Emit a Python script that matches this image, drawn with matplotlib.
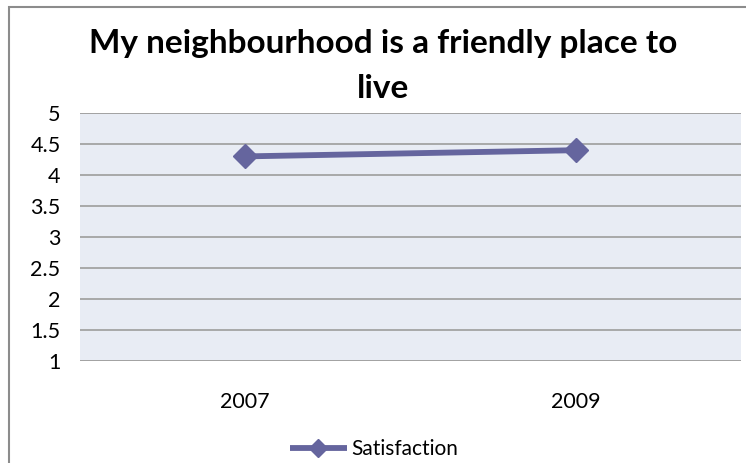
import matplotlib
matplotlib.use("Agg")
import matplotlib.pyplot as plt
from matplotlib.patches import Rectangle

title = "My neighbourhood is a friendly place to\nlive"
categories = ["2007", "2009"]
satisfaction = [4.3, 4.4]
series_name = "Satisfaction"
y_ticks = [1, 1.5, 2, 2.5, 3, 3.5, 4, 4.5, 5]
y_labels = ["1", "1.5", "2", "2.5", "3", "3.5", "4", "4.5", "5"]

plt.rcParams['font.family'] = ['Lato', 'DejaVu Sans']

W, H = 746, 463
fig = plt.figure(figsize=(W / 100, H / 100), dpi=100)
fig.patch.set_facecolor("white")

# chart border
fig.patches.append(Rectangle((9 / W, -0.05), 1.1, 1 - 6.5 / H + 0.05,
                             transform=fig.transFigure, fill=False,
                             edgecolor="#8c8c8c", linewidth=1.5))

ax = fig.add_axes([80 / W, 1 - 361 / H, (741 - 80) / W, (361 - 113) / H])
ax.set_facecolor("#e8ecf4")
color = "#65659e"
x = list(range(len(categories)))
ax.plot(x, satisfaction, color=color, linewidth=4.2, marker="D",
        markersize=12.5, markeredgecolor=color, markerfacecolor=color,
        label=series_name, solid_capstyle="butt", zorder=3)

ax.set_xlim(-0.5, len(categories) - 0.5)
ax.set_ylim(1, 5)
ax.set_yticks(y_ticks)
ax.set_yticklabels(y_labels, fontsize=15.5)
ax.set_xticks(x)
ax.set_xticklabels(categories, fontsize=15.5)
ax.grid(axis="y", color="#a3a3a3", linewidth=1.3, zorder=1)
ax.set_axisbelow(True)
for s in ax.spines.values():
    s.set_visible(False)
ax.tick_params(axis="both", length=0)
ax.tick_params(axis="y", pad=14)
ax.tick_params(axis="x", pad=22)
ax.axhline(1, color="#a3a3a3", linewidth=1.3, zorder=1)
ax.axhline(5, color="#a3a3a3", linewidth=1.3, zorder=1)

lines = title.split("\n")
baselines = [53, 98]
for line, by in zip(lines, baselines):
    fig.text(383 / W, 1 - by / H, line, ha="center", va="baseline",
             fontsize=24, fontweight="bold")

fig.legend(loc="center", bbox_to_anchor=(374 / W, 1 - 449 / H), frameon=False,
           fontsize=15, handlelength=2.7, handletextpad=0.2, markerscale=0.75)

fig.savefig("out.png", dpi=100)
